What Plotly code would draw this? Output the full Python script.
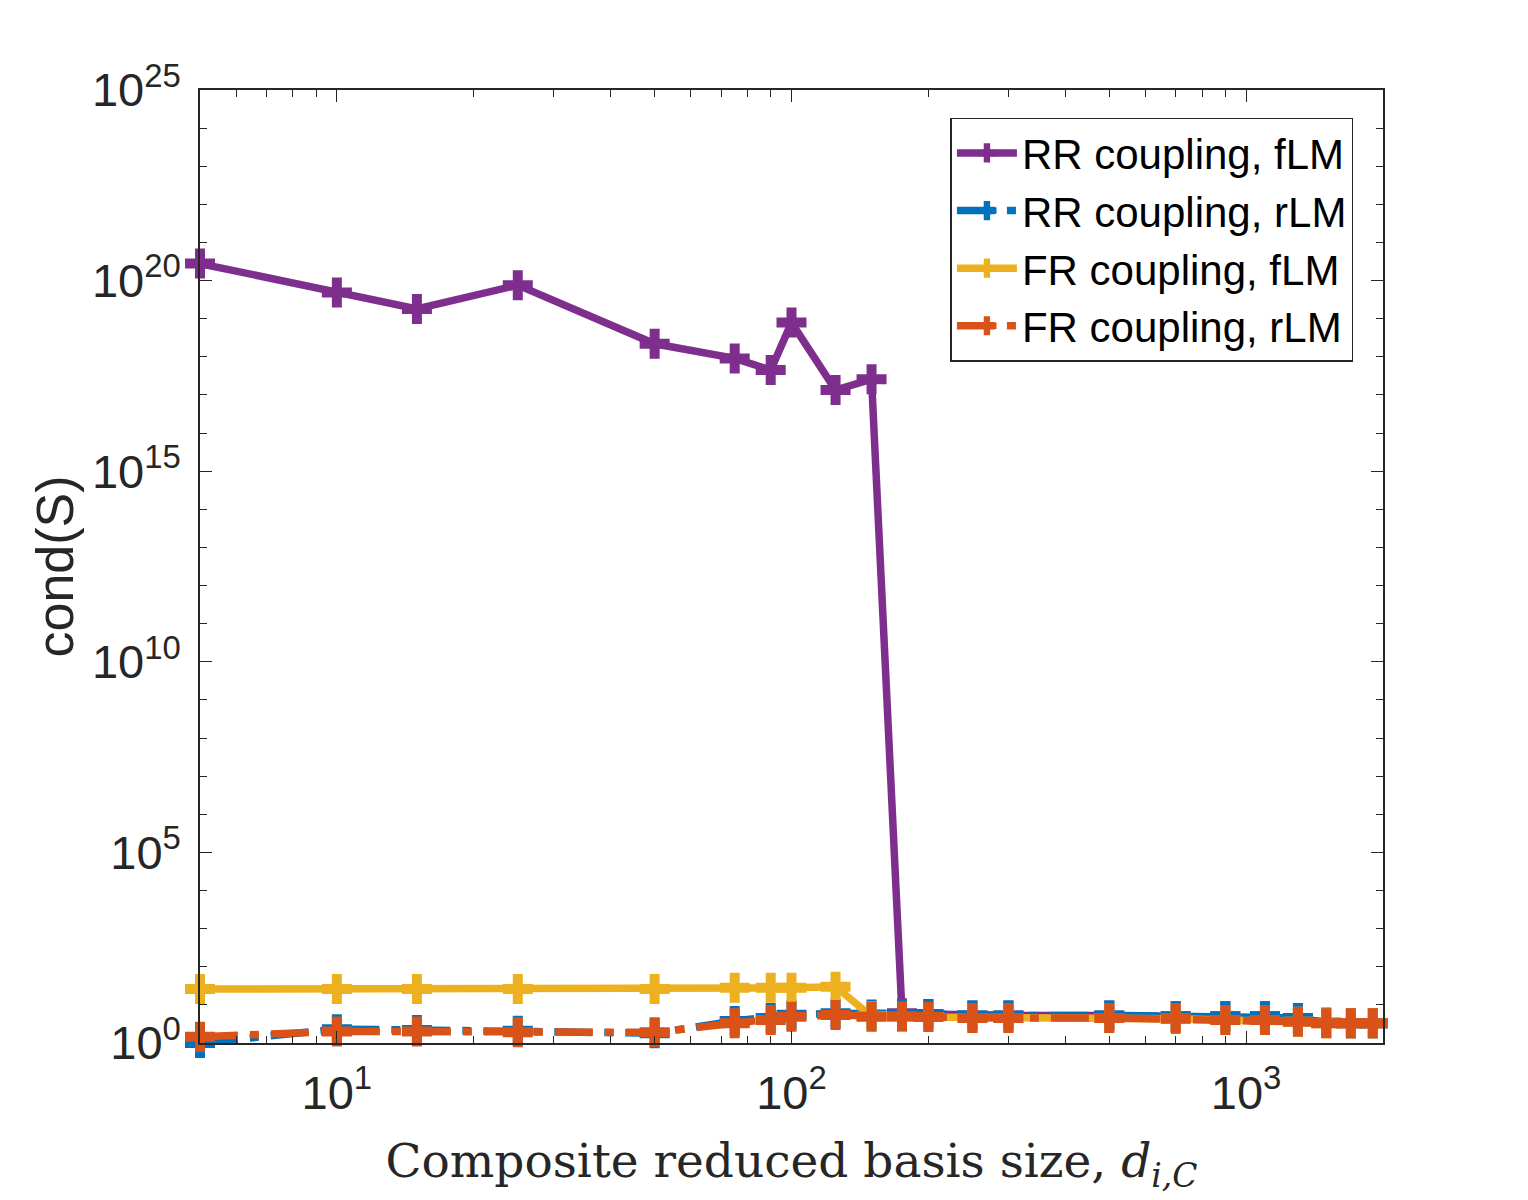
import plotly.graph_objects as go

# basis sizes (x) and condition numbers for each coupling / LM variant
basis_size = [5, 10, 15, 25, 50, 75, 90, 100, 125, 150, 175, 200, 250, 300,
              500, 700, 900, 1100, 1300, 1500, 1700, 1900]

rr_flm = [2.8e20, 4.9e19, 1.8e19, 7.6e19, 2.2e18, 9.1e17, 4.5e17, 7.9e18,
          1.35e17, 2.6e17, 6.0, 5.8, 5.3, 5.3, 5.3, 5.0, 5.0, 5.0, 4.5, 3.4, 3.3, 3.3]
rr_rlm = [1.0, 2.3, 2.2, 2.1, 1.8, 3.8, 4.5, 5.5, 6.0, 5.6, 5.8, 5.8, 5.3, 5.3,
          5.3, 5.0, 5.0, 5.0, 4.5, 3.4, 3.3, 3.3]
fr_flm = [26, 26, 26, 26, 26, 28, 28, 28, 30, 5.0, 4.8, 4.8, 4.5, 4.5, 4.5, 4.3,
          4.0, 4.0, 3.6, 3.3, 3.3, 3.3]
fr_rlm = [1.46, 2.0, 2.0, 1.9, 1.9, 3.3, 4.0, 4.9, 5.4, 4.9, 5.0, 4.8, 4.5, 4.5,
          4.5, 4.3, 4.0, 4.0, 3.6, 3.3, 3.3, 3.3]

series_names = ["RR coupling, fLM", "RR coupling, rLM",
                "FR coupling, fLM", "FR coupling, rLM"]

x_tickvals = [10, 100, 1000]
x_ticktext = ["10<sup>1</sup>", "10<sup>2</sup>", "10<sup>3</sup>"]
y_tickvals = [1e0, 1e5, 1e10, 1e15, 1e20, 1e25]
y_ticktext = ["10<sup>0</sup>", "10<sup>5</sup>", "10<sup>10</sup>",
              "10<sup>15</sup>", "10<sup>20</sup>", "10<sup>25</sup>"]

colors = ["#7E2F8E", "#0072BD", "#EDB120", "#D95319"]
dashes = ["solid", "38px,12px,9px,12px", "solid", "38px,12px,9px,12px"]

fig = go.Figure()
for name, vals, col, dash in zip(series_names, [rr_flm, rr_rlm, fr_flm, fr_rlm],
                                 colors, dashes):
    fig.add_trace(go.Scatter(
        x=basis_size, y=vals, name=name, mode="lines+markers",
        line=dict(color=col, width=7.5, dash=dash),
        marker=dict(symbol="cross", size=25, color=col, line=dict(width=0)),
        cliponaxis=False))

minor_x = [m * 10 ** k for k in range(0, 4) for m in range(2, 10)]
minor_y = [10.0 ** k for k in range(26)]

axis_common = dict(showline=True, linecolor="#262626", linewidth=1.5, mirror="allticks",
                   ticks="inside", ticklen=12, tickwidth=1.2, tickcolor="#262626",
                   showgrid=False, zeroline=False, tickmode="array",
                   ticklabelstandoff=8,
                   tickfont=dict(family="Liberation Sans", size=47, color="#262626"))

fig.update_xaxes(type="log", range=[0.69897, 3.30103],
                 tickvals=x_tickvals, ticktext=x_ticktext,
                 minor=dict(ticks="inside", ticklen=7, tickcolor="#262626",
                            tickmode="array", tickvals=minor_x, showgrid=False),
                 title=dict(text="Composite reduced basis size, <i>d</i><sub><i>i,C</i></sub>",
                            font=dict(family="DejaVu Serif", size=47, color="#262626"),
                            standoff=26),
                 **axis_common)
fig.update_yaxes(type="log", range=[0, 25],
                 tickvals=y_tickvals, ticktext=y_ticktext,
                 minor=dict(ticks="inside", ticklen=7, tickcolor="#262626",
                            tickmode="array", tickvals=minor_y, showgrid=False),
                 title=dict(text="cond(S)",
                            font=dict(family="Liberation Sans", size=52, color="#262626"),
                            standoff=2),
                 **axis_common)

fig.update_layout(
    width=1528, height=1200,
    margin=dict(l=192, r=153, t=82, b=165),
    plot_bgcolor="white", paper_bgcolor="white",
    font=dict(family="Liberation Sans", color="#262626"),
    legend=dict(x=0.975, y=0.971, xanchor="right", yanchor="top",
                bgcolor="white", bordercolor="#262626", borderwidth=1.5,
                font=dict(family="Liberation Sans", size=42, color="black"),
                itemwidth=60, tracegroupgap=0),
    showlegend=True)

fig.write_html("out.html")
